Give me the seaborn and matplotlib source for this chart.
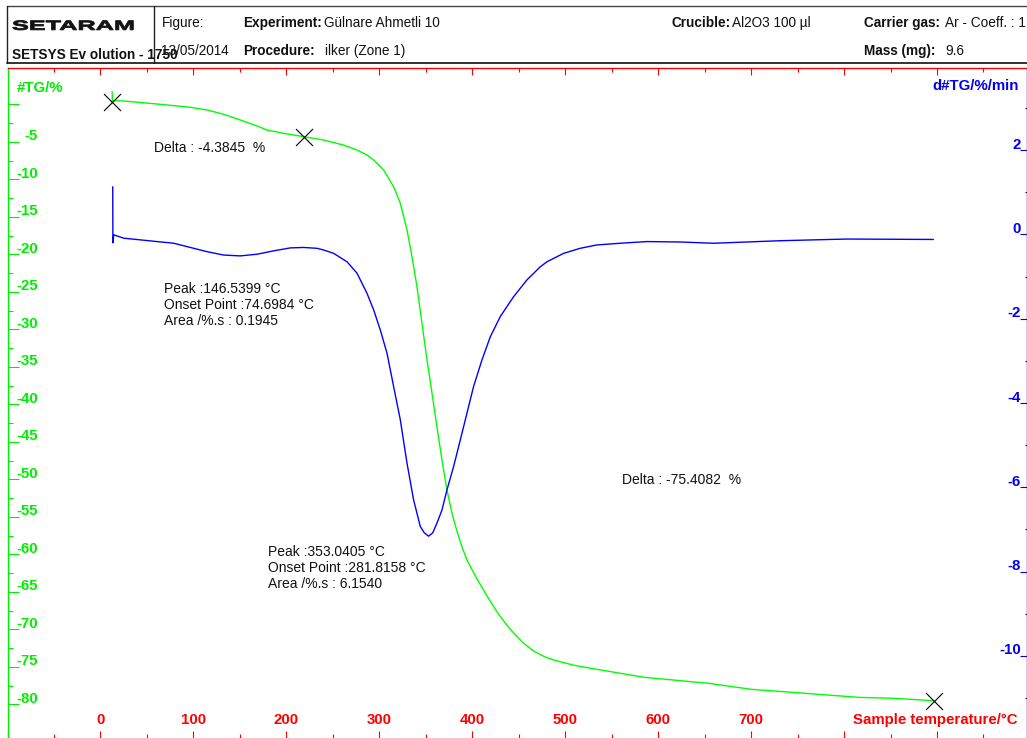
import numpy as np
import pandas as pd
import matplotlib
matplotlib.use("Agg")
import matplotlib.pyplot as plt
import seaborn as sns
from matplotlib import transforms
from matplotlib.lines import Line2D
from matplotlib.textpath import TextPath
from matplotlib.patches import PathPatch
from matplotlib.font_manager import FontProperties

# TG curve (sample temperature in C, mass change in %)
tg_temp = [12.6, 12.8, 25.1, 61.0, 96.8, 114.7, 132.6, 150.5, 168.5, 179.2, 197.1,
           218.6, 240.1, 261.3, 276.0, 286.8, 293.9, 304.6, 315.4, 322.6, 329.8,
           335.1, 340.5, 345.9, 351.3, 356.7, 362.0, 367.4, 372.8, 378.2, 383.5,
           388.9, 394.3, 404.7, 416.1, 427.8, 439.4, 454.7, 466.2, 477.7, 489.2,
           508.0, 527.6, 585.3, 654.4, 700.4, 758.1, 815.7, 854.1, 896.3]
tg_val = [1.68, 0.48, 0.44, 0.04, -0.40, -0.76, -1.33, -2.09, -2.89, -3.43, -3.87,
          -4.32, -4.76, -5.43, -6.09, -6.76, -7.43, -8.76, -10.99, -13.2, -16.76,
          -20.3, -24.32, -29.2, -34.09, -38.53, -42.99, -47.43, -51.43, -54.53, -56.9,
          -59.0, -60.76, -63.2, -65.6, -67.9, -69.8, -71.8, -72.9, -73.65, -74.15,
          -74.75, -75.2, -76.4, -77.2, -78.0, -78.53, -79.07, -79.2, -79.52]

# DTG curve (%/min)
dtg_temp = [13.2, 13.4, 14.3, 25.1, 78.8, 114.7, 132.6, 150.5, 168.5, 186.4, 204.3,
            218.6, 233.0, 240.1, 250.9, 258.1, 265.3, 276.0, 286.8, 293.9, 301.1,
            308.3, 315.4, 322.6, 329.8, 336.9, 344.1, 348.4, 353.0, 357.5, 362.0,
            367.4, 372.8, 379.9, 387.1, 394.3, 401.4, 410.4, 419.4, 430.1, 444.4,
            458.8, 473.1, 480.3, 498.2, 516.1, 534.1, 559.1, 587.8, 623.7, 659.5,
            695.4, 731.2, 802.9, 896.0]
dtg_val = [1.13, -0.20, -0.01, -0.09, -0.21, -0.41, -0.49, -0.51, -0.47, -0.39, -0.32,
           -0.31, -0.33, -0.37, -0.45, -0.55, -0.65, -0.92, -1.40, -1.79, -2.27,
           -2.82, -3.61, -4.40, -5.43, -6.30, -6.93, -7.08, -7.16, -7.08, -6.85,
           -6.54, -6.06, -5.51, -4.88, -4.24, -3.61, -2.98, -2.43, -1.95, -1.48,
           -1.08, -0.77, -0.65, -0.45, -0.33, -0.25, -0.21, -0.17, -0.18, -0.21,
           -0.18, -0.15, -0.11, -0.12]

# cross markers on the TG curve
mark_temp = [12.8, 218.6, 896.3]
mark_tg = [0.3, -4.3, -79.6]

x_ticks = [-100, 0, 100, 200, 300, 400, 500, 600, 700, 800, 900]
x_labels = ["0", "100", "200", "300", "400", "500", "600", "700"]
tg_ticks = [0, -5, -10, -15, -20, -25, -30, -35, -40, -45, -50, -55, -60, -65, -70, -75, -80]
tg_labels = ["-5", "-10", "-15", "-20", "-25", "-30", "-35", "-40", "-45", "-50",
             "-55", "-60", "-65", "-70", "-75", "-80"]
dtg_ticks = [2, 0, -2, -4, -6, -8, -10]
dtg_labels = ["2", "0", "-2", "-4", "-6", "-8", "-10"]

tg_df = pd.DataFrame({"temp": tg_temp, "tg": tg_val})
dtg_df = pd.DataFrame({"temp": dtg_temp, "dtg": dtg_val})

sns.set_theme(style="white")
plt.rcParams['font.family'] = ['Liberation Sans', 'DejaVu Sans']

W, H = 1027, 738
GREEN = "#00ee00"
BLUE = "#0000ee"
RED = "#ff0000"

fig = plt.figure(figsize=(W / 100, H / 100), dpi=100)
ax = fig.add_axes([7.5 / W, 0, (W - 7.5) / W, 670 / H])
ax2 = ax.twinx()

sns.lineplot(data=tg_df, x="temp", y="tg", ax=ax, color="#00ff00", lw=1.0,
             sort=False, estimator=None)
sns.lineplot(data=dtg_df, x="temp", y="dtg", ax=ax2, color="#0000ff", lw=1.0,
             sort=False, estimator=None)
sns.scatterplot(x=mark_temp, y=mark_tg, ax=ax, marker="x", s=150, color="black",
                linewidth=0.8, zorder=5)

ax.set_xlim(-99.5, 996.8)
ax.set_ylim(-84.49, 4.84)
ax2.set_ylim(-11.948, 3.948)
for a in (ax, ax2):
    a.set_xlabel("")
    a.set_ylabel("")

# spines
for s in ("bottom", "right"):
    ax.spines[s].set_visible(False)
ax.spines["left"].set_color(GREEN)
ax.spines["left"].set_linewidth(1.0)
ax.spines["top"].set_color(RED)
ax.spines["top"].set_linewidth(1.0)
for s in ("bottom", "left", "top"):
    ax2.spines[s].set_visible(False)
ax2.spines["right"].set_color(BLUE)
ax2.spines["right"].set_linewidth(1.0)

# ticks
ax.set_xticks(x_ticks)
ax.set_xticks(np.arange(-50, 1000, 100), minor=True)
ax.tick_params(axis="x", which="both", direction="in", colors=RED, top=True, bottom=True,
               labelbottom=False, labeltop=False, width=0.8)
ax.tick_params(axis="x", which="major", length=4.7)
ax.tick_params(axis="x", which="minor", length=2.8)

ax.set_yticks(tg_ticks)
ax.set_yticks(np.arange(-2.5, -80, -5), minor=True)
ax.tick_params(axis="y", which="both", direction="in", colors=GREEN, left=True, right=False,
               labelleft=False, width=0.8)
ax.tick_params(axis="y", which="major", length=7.6)
ax.tick_params(axis="y", which="minor", length=3.9)

ax2.set_yticks(dtg_ticks)
ax2.set_yticks(np.arange(3, -12, -2), minor=True)
ax2.tick_params(axis="y", which="both", direction="in", colors=BLUE, right=True, left=False,
                labelright=False, width=0.8)
ax2.tick_params(axis="y", which="major", length=4.7)
ax2.tick_params(axis="y", which="minor", length=1.5)
ax.grid(False)
ax2.grid(False)

lab = dict(fontsize=10.8, fontweight="bold")

# tick labels drawn inside the frame
tr_tg = transforms.offset_copy(transforms.blended_transform_factory(ax.transAxes, ax.transData),
                               fig=fig, x=0, y=1.5, units="dots")
for v, t in zip(tg_ticks[1:], tg_labels):
    ax.text(30.5 / 1019.5, v, t, transform=tr_tg, ha="right", va="baseline", color=GREEN, **lab)

tr_dtg = transforms.offset_copy(transforms.blended_transform_factory(ax2.transAxes, ax2.transData),
                                fig=fig, x=0, y=1.5, units="dots")
for v, t in zip(dtg_ticks, dtg_labels):
    ax2.text(1013.2 / 1019.5, v, t, transform=tr_dtg, ha="right", va="baseline", color=BLUE, **lab)

tr_x = transforms.blended_transform_factory(ax.transData, ax.transAxes)
for v, t in zip(x_ticks[1:], x_labels):
    ax.text(v, 14 / 670, t, transform=tr_x, ha="center", va="baseline", color=RED, **lab)
ax.text(1010.5 / 1019.5, 14 / 670, "Sample temperature/°C", transform=ax.transAxes,
        ha="right", va="baseline", color=RED, **lab)
ax.text(9.5 / 1019.5, (738 - 91.5) / 670, "#TG/%", transform=ax.transAxes,
        ha="left", va="baseline", color=GREEN, **lab)
ax.text(1011.5 / 1019.5, (738 - 90) / 670, "d#TG/%/min", transform=ax.transAxes,
        ha="right", va="baseline", color=BLUE, **lab)


def px(x, y):
    return x / W, 1 - y / H


# peak / step annotations
notes = [
    (154, 147.7, "Delta : -4.3845  %"),
    (164, 289, "Peak :146.5399 °C"),
    (164, 305, "Onset Point :74.6984 °C"),
    (164, 321, "Area /%.s : 0.1945"),
    (268, 552, "Peak :353.0405 °C"),
    (268, 568, "Onset Point :281.8158 °C"),
    (268, 584, "Area /%.s : 6.1540"),
    (622, 480, "Delta : -75.4082  %"),
]
for x, y, t in notes:
    fig.text(*px(x, y), t, ha="left", va="center", fontsize=10, color="#111111")

# header block
hdr = [
    (161.7, 26.7, "Figure:", "normal"),
    (243.3, 26.7, "Experiment:", "bold"),
    (324.5, 26.7, "Gülnare Ahmetli 10", "normal"),
    (671.7, 26.7, "Crucible:", "bold"),
    (732.0, 26.7, "Al2O3 100 µl", "normal"),
    (864.3, 26.7, "Carrier gas:", "bold"),
    (945.0, 26.7, "Ar - Coeff. : 1", "normal"),
    (161.0, 55.0, "13/05/2014", "normal"),
    (243.3, 55.0, "Procedure:", "bold"),
    (325.0, 55.0, "ilker (Zone 1)", "normal"),
    (864.3, 55.0, "Mass (mg):", "bold"),
    (945.7, 55.0, "9.6", "normal"),
    (12.3, 59.3, "SETSYS Ev olution - 1750", "bold"),
]
for x, y, t, w in hdr:
    fig.text(*px(x, y), t, ha="left", va="baseline", fontsize=9.8, fontweight=w,
             color="#111111")

for (x0, y0, x1, y1, c, lw) in [(7.3, 6, 1027, 6, "#444444", 1.0),
                                (7.3, 6, 7.3, 63.3, "#222222", 1.0),
                                (154, 6, 154, 63.3, "#222222", 1.0),
                                (7.3, 63.3, 1027, 63.3, "#111111", 1.2)]:
    fig.add_artist(Line2D([x0 / W, x1 / W], [1 - y0 / H, 1 - y1 / H],
                          transform=fig.transFigure, color=c, lw=lw))

# wide logo lettering
tp = TextPath((0, 0), "SETARAM", size=10,
              prop=FontProperties(family="Liberation Sans", weight="bold"))
bb = tp.get_extents()
logo_tr = transforms.Affine2D().translate(-bb.x0, -bb.y0).scale(120.6 / bb.width, 9.5 / bb.height)
logo_tr = logo_tr.translate(12.7, H - 30)
fig.add_artist(PathPatch(tp, transform=logo_tr, fc="#111111", ec="#111111", lw=0.6))

fig.savefig("out.png", dpi=100)
